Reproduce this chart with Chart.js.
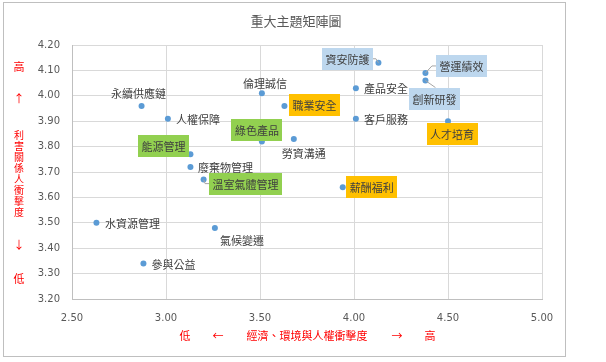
<!DOCTYPE html>
<html>
<head>
<meta charset="utf-8">
<script src="https://cdn.jsdelivr.net/npm/chart.js@4"></script>
<style>
  html, body { margin: 0; padding: 0; background: #fff; }
  canvas { display: block; }
</style>
</head>
<body>
<canvas id="chart" width="606" height="362"></canvas>
<script>
// topics and their scores
const topics = ['永續供應鏈', '人權保障', '能源管理', '廢棄物管理', '溫室氣體管理', '水資源管理', '參與公益', '氣候變遷',
  '倫理誠信', '職業安全', '綠色產品', '勞資溝通', '資安防護', '產品安全', '客戶服務', '薪酬福利', '營運績效', '創新研發', '人才培育'];
const impactX = [2.87, 3.01, 3.13, 3.13, 3.20, 2.63, 2.88, 3.26, 3.51, 3.63, 3.51, 3.68, 4.13, 4.01, 4.01, 3.94, 4.38, 4.38, 4.50];
const impactY = [3.96, 3.91, 3.77, 3.72, 3.67, 3.50, 3.34, 3.48, 4.01, 3.96, 3.82, 3.83, 4.13, 4.03, 3.91, 3.64, 4.09, 4.06, 3.90];
const topicGroup = ['', '', 'env', '', 'env', '', '', '', '', 'people', 'env', '', 'gov', '', '', 'people', 'gov', 'gov', 'people'];
const xTicks = [2.5, 3.0, 3.5, 4.0, 4.5, 5.0];
const yTicks = [3.2, 3.3, 3.4, 3.5, 3.6, 3.7, 3.8, 3.9, 4.0, 4.1, 4.2];

// label placement (offset of label centre from its point, px)
const labelOffset = [[-3, -13], [30, 0], [-27, -8], [35, 0], [42, 4], [36, 0], [30, 0], [27, 12],
  [3, -10], [30, -1], [-5, -12], [10, 14], [-31, -4], [30, 0], [30, 0], [29, 0], [36, -7], [9, 18], [4, 13]];
const withLeader = ['資安防護', '營運績效', '創新研發', '溫室氣體管理'];
const groupFill = { gov: '#BDD7EE', people: '#FFC000', env: '#92D050' };

const CJK = '"Noto Sans CJK TC", "Noto Sans", sans-serif';
const NUM = '"DejaVu Sans", sans-serif';
const RED = '#FF0000';

const labelPlugin = {
  id: 'topicLabels',
  afterDatasetsDraw(chart) {
    const ctx = chart.ctx;
    const meta = chart.getDatasetMeta(0);
    ctx.save();
    ctx.font = '11px ' + CJK;
    ctx.textAlign = 'center';
    ctx.textBaseline = 'middle';
    meta.data.forEach((pt, i) => {
      const name = topics[i];
      const cx = pt.x + labelOffset[i][0];
      const cy = pt.y + labelOffset[i][1];
      const tw = ctx.measureText(name).width;
      const fill = groupFill[topicGroup[i]];
      const bw = tw + 7, bh = 22;
      const bx = cx - bw / 2, by = cy - bh / 2;
      if (withLeader.includes(name)) {
        ctx.strokeStyle = '#A6A6A6';
        ctx.lineWidth = 1;
        ctx.beginPath();
        if (pt.x > bx + bw) {
          ctx.moveTo(bx + bw, cy); ctx.lineTo(bx + bw + 3, cy); ctx.lineTo(pt.x, pt.y);
        } else if (pt.x < bx) {
          ctx.moveTo(bx, cy); ctx.lineTo(bx - 4, cy); ctx.lineTo(pt.x, pt.y);
        } else {
          ctx.moveTo(Math.min(bx + bw, pt.x + 10), by); ctx.lineTo(pt.x, pt.y);
        }
        ctx.stroke();
      }
      if (fill) {
        ctx.fillStyle = fill;
        ctx.fillRect(Math.round(bx), Math.round(by), Math.round(bw), bh);
      }
      ctx.fillStyle = '#404040';
      ctx.fillText(name, cx, cy + 1);
    });
    ctx.restore();
  },
  afterDraw(chart) {
    const ctx = chart.ctx;
    ctx.save();
    ctx.strokeStyle = '#BFBFBF';
    ctx.lineWidth = 1;
    ctx.strokeRect(3.5, 2.5, 562, 354);

    ctx.textAlign = 'center';
    ctx.textBaseline = 'middle';
    ctx.fillStyle = '#595959';
    ctx.font = '13px ' + CJK;
    ctx.fillText('重大主題矩陣圖', 296, 21);

    ctx.fillStyle = RED;
    ctx.font = '11px ' + CJK;
    // vertical axis caption
    ctx.fillText('高', 19, 67);
    ctx.fillText('↑', 19, 99);
    ctx.fillText('↓', 19, 245);
    ctx.fillText('低', 19, 279);
    ctx.font = '10px ' + CJK;
    const yCap = '利害關係人衝擊度';
    for (let i = 0; i < yCap.length; i++) ctx.fillText(yCap[i], 19, 135 + i * 11);
    // horizontal axis caption
    ctx.font = '11px ' + CJK;
    ctx.fillText('低', 185, 336);
    ctx.fillText('←', 218, 336);
    ctx.fillText('經濟、環境與人權衝擊度', 307, 336);
    ctx.fillText('→', 397, 336);
    ctx.fillText('高', 430, 336);
    ctx.restore();
  }
};

const points = impactX.map((x, i) => ({ x, y: impactY[i] }));

new Chart(document.getElementById('chart'), {
  type: 'scatter',
  data: {
    datasets: [{
      label: '重大主題',
      data: points,
      pointRadius: 3,
      pointHoverRadius: 3,
      pointBackgroundColor: '#5B9BD5',
      pointBorderWidth: 0
    }]
  },
  options: {
    responsive: false,
    animation: false,
    events: [],
    layout: { padding: { top: 45, right: 64, left: 0, bottom: 0 } },
    plugins: { legend: { display: false }, tooltip: { enabled: false } },
    scales: {
      x: {
        type: 'linear',
        min: xTicks[0],
        max: xTicks[xTicks.length - 1],
        afterFit: s => { s.height = 63; },
        afterBuildTicks: s => { s.ticks = xTicks.map(v => ({ value: v })); },
        grid: { color: '#D9D9D9', drawTicks: false },
        border: { color: '#BFBFBF' },
        ticks: { padding: 13, color: '#595959', font: { family: NUM, size: 10 }, callback: v => v.toFixed(2) }
      },
      y: {
        type: 'linear',
        min: yTicks[0],
        max: yTicks[yTicks.length - 1],
        afterFit: s => { s.width = 72; },
        afterBuildTicks: s => { s.ticks = yTicks.map(v => ({ value: v })); },
        grid: { color: '#D9D9D9', drawTicks: false },
        border: { color: '#BFBFBF' },
        ticks: { padding: 12, color: '#595959', font: { family: NUM, size: 10 }, callback: v => v.toFixed(2) }
      }
    }
  },
  plugins: [labelPlugin, {
    id: 'bg',
    beforeDraw(c) { c.ctx.save(); c.ctx.fillStyle = '#fff'; c.ctx.fillRect(0, 0, c.width, c.height); c.ctx.restore(); }
  }]
});
</script>
</body>
</html>
